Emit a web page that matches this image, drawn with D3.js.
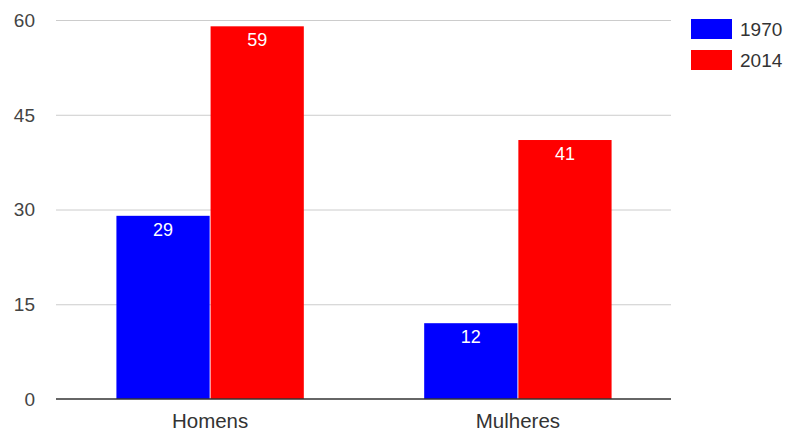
<!DOCTYPE html>
<html>
<head>
<meta charset="utf-8">
<script src="https://cdn.jsdelivr.net/npm/d3@7"></script>
<style>
  body { margin: 0; background: #fff; }
  text { font-family: Arial, "Liberation Sans", sans-serif; }
</style>
</head>
<body>
<script>
const categories = ["Homens", "Mulheres"];
const seriesNames = ["1970", "2014"];
const values1970 = [29, 12];
const values2014 = [59, 41];
const yTicks = [0, 15, 30, 45, 60];
const colors = ["#0000ff", "#ff0000"];

const width = 788, height = 434;
const margin = { left: 57, top: 20, right: 117, bottom: 35 };
const innerWidth = width - margin.left - margin.right;
const innerHeight = height - margin.top - margin.bottom;

const data = categories.map((c, i) => ({ cat: c, vals: [values1970[i], values2014[i]] }));

const svg = d3.select("body").append("svg")
  .attr("width", width)
  .attr("height", height);

const g = svg.append("g")
  .attr("transform", `translate(${margin.left},${margin.top})`);

const x = d3.scaleBand()
  .domain(categories)
  .range([0, innerWidth])
  .paddingInner(0.385)
  .paddingOuter(0.19);

const xInner = d3.scaleBand()
  .domain(seriesNames)
  .range([0, x.bandwidth()])
  .padding(0.01);

const y = d3.scaleLinear()
  .domain([0, 60])
  .range([innerHeight, 0]);

// gridlines
g.append("g").selectAll("line")
  .data(yTicks.filter(d => d > 0))
  .join("line")
    .attr("x1", -1)
    .attr("x2", innerWidth)
    .attr("y1", d => y(d) + 0.5)
    .attr("y2", d => y(d) + 0.5)
    .attr("stroke", "#cccccc")
    .attr("stroke-width", 1);

// y labels
g.append("g").selectAll("text")
  .data(yTicks)
  .join("text")
    .attr("x", -22)
    .attr("y", d => y(d))
    .attr("dy", "0.36em")
    .attr("text-anchor", "end")
    .attr("fill", "#444")
    .style("font-size", "19px")
    .text(d => d);

// bars
const groups = g.append("g").selectAll("g")
  .data(data)
  .join("g")
    .attr("transform", d => `translate(${x(d.cat)},0)`);

groups.selectAll("rect")
  .data(d => d.vals.map((v, i) => ({ key: seriesNames[i], v, i })))
  .join("rect")
    .attr("x", d => xInner(d.key))
    .attr("y", d => y(d.v))
    .attr("width", xInner.bandwidth())
    .attr("height", d => innerHeight - y(d.v))
    .attr("fill", d => colors[d.i]);

groups.selectAll("text")
  .data(d => d.vals.map((v, i) => ({ key: seriesNames[i], v, i })))
  .join("text")
    .attr("x", d => xInner(d.key) + xInner.bandwidth() / 2)
    .attr("y", d => y(d.v) + 20)
    .attr("text-anchor", "middle")
    .attr("fill", "#fff")
    .style("font-size", "18px")
    .text(d => d.v);

// baseline
g.append("line")
  .attr("x1", -1)
  .attr("x2", innerWidth)
  .attr("y1", innerHeight)
  .attr("y2", innerHeight)
  .attr("stroke", "#333")
  .attr("stroke-width", 1.3);

// x labels
g.append("g").selectAll("text")
  .data(categories)
  .join("text")
    .attr("x", d => x(d) + x.bandwidth() / 2)
    .attr("y", innerHeight + 29)
    .attr("text-anchor", "middle")
    .attr("fill", "#333")
    .style("font-size", "20.5px")
    .text(d => d);

// legend
const legend = svg.append("g")
  .attr("transform", "translate(691,19)");

const item = legend.selectAll("g")
  .data(seriesNames)
  .join("g")
    .attr("transform", (d, i) => `translate(0,${i * 31})`);

item.append("rect")
  .attr("width", 41)
  .attr("height", 20)
  .attr("fill", (d, i) => colors[i]);

item.append("text")
  .attr("x", 49)
  .attr("y", 10)
  .attr("dy", "0.36em")
  .attr("fill", "#333")
  .style("font-size", "19px")
  .text(d => d);
</script>
</body>
</html>
